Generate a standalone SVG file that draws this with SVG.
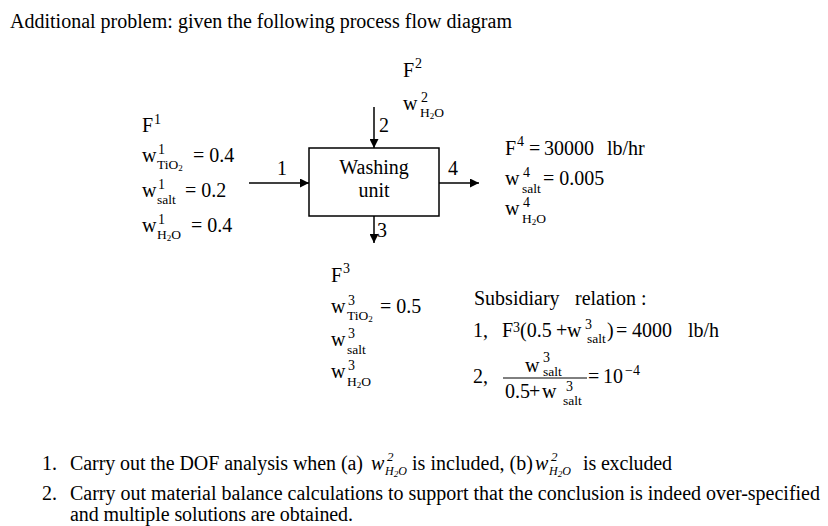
<svg xmlns="http://www.w3.org/2000/svg" width="828" height="526" viewBox="0 0 828 526">
<style>
text{font-family:"Liberation Serif","Times New Roman",serif;fill:#000;font-size:20px}
.sup{font-size:14px}
.sub{font-size:13.5px}
.s2{font-size:9px}
.it{font-style:italic}
.bsup{font-size:13px}
.bsub{font-size:12px}
.ln{stroke:#000;stroke-width:1.5;fill:none}
</style>
<defs>
<marker id="ah" viewBox="0 0 10 10" refX="10" refY="5" markerWidth="9" markerHeight="9" markerUnits="userSpaceOnUse" orient="auto">
<path d="M0,0 L10,5 L0,10 z" fill="#000"/>
</marker>
</defs>
<rect width="828" height="526" fill="#fff"/>
<text x="10" y="28" textLength="502">Additional problem: given the following process flow diagram</text>

<g id="washing-unit">
<rect x="309" y="148" width="130" height="68" fill="#fff" stroke="#000" stroke-width="1.5"/>
<text x="374" y="174" text-anchor="middle">Washing</text>
<text x="374" y="197" text-anchor="middle">unit</text>
</g>

<g id="connectors">
<line class="ln" x1="249" y1="183" x2="309" y2="183" marker-end="url(#ah)"/>
<line class="ln" x1="374" y1="107" x2="374" y2="148" marker-end="url(#ah)"/>
<line class="ln" x1="374" y1="216" x2="374" y2="243" marker-end="url(#ah)"/>
<line class="ln" x1="439" y1="183" x2="479" y2="183" marker-end="url(#ah)"/>
<text x="277" y="175">1</text>
<text x="379" y="132">2</text>
<text x="377" y="237">3</text>
<text x="448" y="175">4</text>
</g>

<g id="stream1">
<text x="142" y="132">F</text><text class="sup" x="154" y="124">1</text>
<text x="142" y="162">w</text><text class="sup" x="158" y="154">1</text>
<text class="sub" x="157" y="169">TiO<tspan class="s2" dy="2">2</tspan></text>
<text x="193" y="162">= 0.4</text>
<text x="142" y="197">w</text><text class="sup" x="158" y="189">1</text>
<text class="sub" x="157" y="204">salt</text>
<text x="185" y="197">= 0.2</text>
<text x="142" y="232">w</text><text class="sup" x="158" y="224">1</text>
<text class="sub" x="157" y="239">H<tspan class="s2" dy="2">2</tspan><tspan dy="-2">O</tspan></text>
<text x="191" y="232">= 0.4</text>
</g>

<g id="stream2">
<text x="403" y="77">F</text><text class="sup" x="415" y="68">2</text>
<text x="403" y="110">w</text><text class="sup" x="421" y="102">2</text>
<text class="sub" x="420" y="117">H<tspan class="s2" dy="2">2</tspan><tspan dy="-2">O</tspan></text>
</g>

<g id="stream4">
<text x="505" y="155">F</text><text class="sup" x="517" y="146">4</text>
<text x="529" y="155">=</text><text x="544" y="155">30000</text><text x="607" y="155">lb/hr</text>
<text x="505" y="185">w</text><text class="sup" x="523" y="177">4</text>
<text class="sub" x="522" y="193">salt</text>
<text x="543" y="185">= 0.005</text>
<text x="505" y="215">w</text><text class="sup" x="523" y="207">4</text>
<text class="sub" x="522" y="223">H<tspan class="s2" dy="2">2</tspan><tspan dy="-2">O</tspan></text>
</g>

<g id="stream3">
<text x="331" y="282">F</text><text class="sup" x="343" y="273">3</text>
<text x="331" y="313">w</text><text class="sup" x="348" y="305">3</text>
<text class="sub" x="347" y="320">TiO<tspan class="s2" dy="2">2</tspan></text>
<text x="380" y="313">= 0.5</text>
<text x="331" y="346">w</text><text class="sup" x="348" y="338">3</text>
<text class="sub" x="347" y="354">salt</text>
<text x="331" y="378">w</text><text class="sup" x="348" y="370">3</text>
<text class="sub" x="347" y="386">H<tspan class="s2" dy="2">2</tspan><tspan dy="-2">O</tspan></text>
</g>

<g id="subsidiary">
<text x="474" y="305">Subsidiary</text><text x="575" y="305">relation :</text>
<text x="473" y="337">1,</text>
<text x="502" y="337">F</text><text class="sup" x="513" y="332">3</text>
<text x="520" y="337">(0.5</text><text x="556" y="337">+</text><text x="567" y="337">w</text>
<text class="sup" x="585" y="329">3</text>
<text class="sub" x="587" y="343">salt</text>
<text x="607" y="337">)</text><text x="616" y="337">=</text><text x="632" y="337">4000</text><text x="688" y="337">lb/h</text>
<text x="473" y="383">2,</text>
<text x="525" y="372">w</text><text class="sup" x="543" y="362">3</text>
<text class="sub" x="543" y="376">salt</text>
<line x1="503" y1="378" x2="587" y2="378" stroke="#000" stroke-width="1"/>
<text x="505" y="398">0.5</text><text x="529" y="398">+</text><text x="542" y="398">w</text>
<text class="sup" x="566" y="391">3</text>
<text class="sub" x="563" y="405">salt</text>
<text x="588" y="383">=</text><text x="603" y="383">10</text><text class="sup" x="625" y="375">−4</text>
</g>

<g id="questions">
<text x="42" y="470">1.</text>
<text x="70" y="470" textLength="293">Carry out the DOF analysis when (a)</text>
<text class="it" x="371" y="470">w</text><text class="bsup it" x="387" y="461">2</text>
<text class="bsub it" x="385" y="475">H<tspan class="s2" dy="2">2</tspan><tspan dy="-2">O</tspan></text>
<text x="412" y="470" textLength="121">is included, (b)</text>
<text class="it" x="535" y="470">w</text><text class="bsup it" x="551" y="461">2</text>
<text class="bsub it" x="549" y="475">H<tspan class="s2" dy="2">2</tspan><tspan dy="-2">O</tspan></text>
<text x="583" y="470" textLength="89">is excluded</text>
<text x="42" y="500">2.</text>
<text x="70" y="500" textLength="750">Carry out material balance calculations to support that the conclusion is indeed over-specified</text>
<text x="70" y="521" textLength="283">and multiple solutions are obtained.</text>
</g>
</svg>
